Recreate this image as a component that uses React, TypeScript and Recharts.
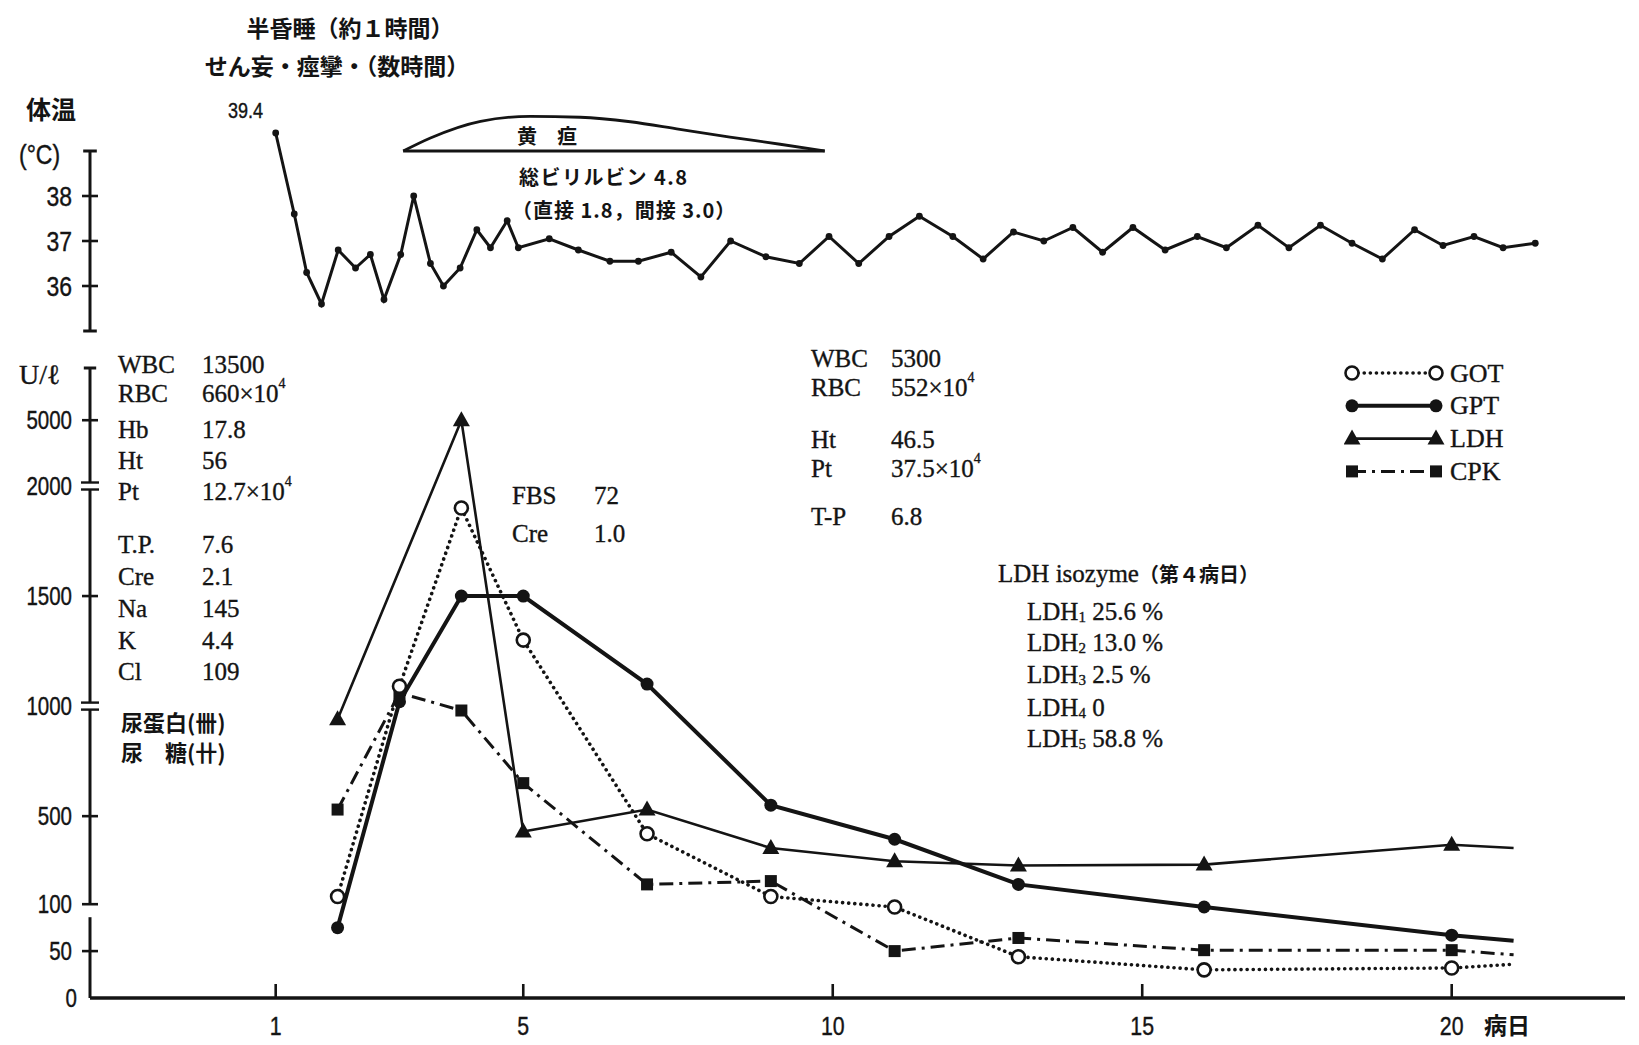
import React from 'react';
import { ComposedChart, Line, XAxis, YAxis, ReferenceLine, Legend } from 'recharts';

// ---------- data ----------
const tempDays = [1.0, 1.3, 1.5, 1.74, 2.01, 2.29, 2.53, 2.75, 3.02, 3.23, 3.5, 3.71, 3.98, 4.25, 4.47, 4.74, 4.92, 5.42, 5.89, 6.4, 6.86, 7.39, 7.87, 8.35, 8.92, 9.46, 9.94, 10.42, 10.91, 11.4, 11.94, 12.43, 12.92, 13.41, 13.88, 14.36, 14.85, 15.37, 15.89, 16.36, 16.87, 17.37, 17.88, 18.39, 18.88, 19.4, 19.86, 20.36, 20.83, 21.35];
const tempValues = [39.4, 37.6, 36.3, 35.6, 36.8, 36.4, 36.7, 35.7, 36.7, 38.0, 36.5, 36.0, 36.4, 37.25, 36.85, 37.45, 36.85, 37.05, 36.8, 36.55, 36.55, 36.75, 36.2, 37.0, 36.65, 36.5, 37.1, 36.5, 37.1, 37.55, 37.1, 36.6, 37.2, 37.0, 37.3, 36.75, 37.3, 36.8, 37.1, 36.85, 37.35, 36.85, 37.35, 36.95, 36.6, 37.25, 36.9, 37.1, 36.85, 36.95];

const jaundiceDays = [3.06, 3.5, 4.31, 5.11, 5.92, 6.73, 7.53, 8.34, 9.15, 9.87];
const jaundiceLevels = [39.0, 39.29, 39.66, 39.77, 39.75, 39.65, 39.48, 39.31, 39.15, 39.0];

const labDays = [2, 3, 4, 5, 7, 9, 11, 13, 16, 20, 21];
const gotValues = [135, 1090, 1900, 1300, 420, 135, 97, 44, 30, 32, 36];
const gptValues = [75, 1020, 1500, 1500, 1100, 550, 395, 190, 97, 67, 61];
const ldhValues: (number | null)[] = [940, null, 5000, 430, 530, 355, 295, 276, 280, 370, 355];
const cpkValues = [530, 1060, 980, 650, 190, 205, 50, 64, 51, 51, 46];
const lastUnmarkedDay = 21;

const enzymeTicks = [0, 50, 100, 500, 1000, 1500, 2000, 5000];
const tempTicks = [36, 37, 38];
const dayTicks = [1, 5, 10, 15, 20];

// broken enzyme axis: 0-100 stretched, 100-2000 linear, 2000-5000 compressed
const toAxis = (v: number) =>
  v <= 100 ? v * 0.938 : v <= 2000 ? 93.8 + (v - 100) * 0.2201 : 512 + (v - 2000) * 0.02193;

const tempTable = tempDays.map((d, i) => ({ day: d, temp: tempValues[i] }));
const jaundiceTable = jaundiceDays.map((d, i) => ({ day: d, level: jaundiceLevels[i] }));
const labTable = labDays.map((d, i) => ({
  day: d,
  got: toAxis(gotValues[i]),
  gpt: toAxis(gptValues[i]),
  ldh: ldhValues[i] == null ? null : toAxis(ldhValues[i] as number),
  cpk: toAxis(cpkValues[i]),
}));

// ---------- styles ----------
const INK = '#141414';
const SERIF = '"Liberation Serif", "DejaVu Serif", serif';
const GOTHIC = '"Noto Sans CJK JP", "Noto Sans", sans-serif';
const NARROW = '"Liberation Sans Narrow", "Liberation Sans", sans-serif';
const X_DOMAIN: [number, number] = [-2, 22.8];

type Kind = 'got' | 'gpt' | 'ldh' | 'cpk';
const Marker = ({ kind, cx, cy }: { kind: Kind; cx: number; cy: number }) => {
  if (kind === 'got')
    return <circle cx={cx} cy={cy} r={6.5} fill="#fff" stroke={INK} strokeWidth={2.6} strokeDasharray="none" />;
  if (kind === 'gpt') return <circle cx={cx} cy={cy} r={6.5} fill={INK} stroke="none" />;
  if (kind === 'ldh')
    return (
      <polygon
        points={`${cx},${cy - 9} ${cx - 8.5},${cy + 6} ${cx + 8.5},${cy + 6}`}
        fill={INK}
        stroke="none"
      />
    );
  return <rect x={cx - 6} y={cy - 6} width={12} height={12} fill={INK} stroke="none" />;
};

const makeDot = (kind: Kind) => (p: any) => {
  const key = `${kind}-${p.index}`;
  if (p.cx == null || p.cy == null || p.value == null || p.payload?.day === lastUnmarkedDay)
    return <g key={key} />;
  return (
    <g key={key}>
      <Marker kind={kind} cx={p.cx} cy={p.cy} />
    </g>
  );
};

const seriesStyle: Record<Kind, any> = {
  got: { strokeWidth: 3.6, strokeDasharray: '0.1 6', strokeLinecap: 'round' },
  gpt: { strokeWidth: 4 },
  ldh: { strokeWidth: 2.6 },
  cpk: { strokeWidth: 3, strokeDasharray: '14 6 3 6' },
};

// condensed label text
const NarrowText = ({ x, y, anchor, size, children }: { x: number; y: number; anchor: 'start' | 'middle' | 'end'; size: number; children: React.ReactNode }) => (
  <g transform={`translate(${x},${y}) scale(0.82,1)`}>
    <text x={0} y={0} textAnchor={anchor} dominantBaseline="central" fontFamily={NARROW} fontSize={size} fill={INK} stroke={INK} strokeWidth={0.4}>
      {children}
    </text>
  </g>
);

// ---------- axis ticks ----------
const EnzTick = (props: any) => {
  const { x, y, payload } = props;
  const v = enzymeTicks.find((t) => Math.abs(toAxis(t) - payload.value) < 0.01);
  const isBreak = v === 2000 || v === 1000;
  return (
    <g>
      {v !== 0 && !isBreak && <line x1={x - 8} x2={x + 8} y1={y} y2={y} stroke={INK} strokeWidth={2.6} />}
      {isBreak && (
        <g>
          <line x1={x - 9} x2={x + 9} y1={y - 3.5} y2={y - 3.5} stroke={INK} strokeWidth={2.4} />
          <line x1={x - 9} x2={x + 9} y1={y + 3.5} y2={y + 3.5} stroke={INK} strokeWidth={2.4} />
        </g>
      )}
      <NarrowText x={v === 0 ? x - 13 : x - 18} y={y} anchor="end" size={25}>
        {v}
      </NarrowText>
    </g>
  );
};

const TempTick = (props: any) => {
  const { x, y, payload } = props;
  return (
    <g>
      <line x1={x - 8} x2={x + 8} y1={y} y2={y} stroke={INK} strokeWidth={2.6} />
      <NarrowText x={x - 18} y={y} anchor="end" size={28}>
        {payload.value}
      </NarrowText>
    </g>
  );
};

const DayTick = (props: any) => {
  const { x, y, payload } = props;
  return (
    <g>
      <line x1={x} x2={x} y1={y} y2={y - 14} stroke={INK} strokeWidth={2.6} />
      <NarrowText x={x} y={y + 28} anchor="middle" size={26}>
        {payload.value}
      </NarrowText>
    </g>
  );
};

// ---------- legend ----------
const legendItems: { kind: Kind; label: string }[] = [
  { kind: 'got', label: 'GOT' },
  { kind: 'gpt', label: 'GPT' },
  { kind: 'ldh', label: 'LDH' },
  { kind: 'cpk', label: 'CPK' },
];
const LegendContent = () => (
  <svg width={200} height={140}>
    {legendItems.map((it, i) => {
      const y = 16 + i * 32.8;
      const x0 = 8;
      const x1 = 92;
      return (
        <g key={it.kind}>
          <line x1={x0} x2={x1} y1={y} y2={y} stroke={INK} {...seriesStyle[it.kind]} />
          <Marker kind={it.kind} cx={x0} cy={y} />
          <Marker kind={it.kind} cx={x1} cy={y} />
          <text x={106} y={y} dominantBaseline="central" fontFamily={SERIF} fontSize={26} fill={INK} stroke={INK} strokeWidth={0.35}>
            {it.label}
          </text>
        </g>
      );
    })}
  </svg>
);

// ---------- annotations ----------
const Sup = ({ children }: { children: React.ReactNode }) => (
  <tspan fontSize={14} dy={-10}>
    {children}
  </tspan>
);
const Row = ({ y, label, value, sup, lx, vx }: { y: number; label: string; value: string; sup?: string; lx: number; vx: number }) => (
  <g fontFamily={SERIF} fontSize={25} fill={INK} stroke={INK} strokeWidth={0.35}>
    <text x={lx} y={y} dominantBaseline="central">
      {label}
    </text>
    <text x={vx} y={y} dominantBaseline="central">
      {value}
      {sup && <Sup>{sup}</Sup>}
    </text>
  </g>
);
const Iso = ({ y, n, value }: { y: number; n: string; value: string }) => (
  <text x={1027} y={y} dominantBaseline="central" fontFamily={SERIF} fontSize={25} fill={INK} stroke={INK} strokeWidth={0.35}>
    LDH
    <tspan fontSize={15} dy={6}>
      {n}
    </tspan>
    <tspan dy={-6}> {value}</tspan>
  </text>
);

const Overlay = () => (
  <svg width={1639} height={1045} style={{ position: 'absolute', left: 0, top: 0, pointerEvents: 'none' }}>
    <g fontFamily={GOTHIC} fontWeight={700} fill={INK}>
      <text x={350} y={27} textAnchor="middle" dominantBaseline="central" fontSize={23}>
        半昏睡（約１時間）
      </text>
      <text x={337} y={65} textAnchor="middle" dominantBaseline="central" fontSize={23}>
        せん妄・痙攣・（数時間）
      </text>
      <text x={26} y={108} dominantBaseline="central" fontSize={25}>
        体温
      </text>
      <text x={547} y={135} textAnchor="middle" dominantBaseline="central" fontSize={20}>
        黄　疸
      </text>
      <text x={519} y={176} dominantBaseline="central" fontSize={20} letterSpacing={1.5}>
        総ビリルビン 4.8
      </text>
      <text x={512} y={209} dominantBaseline="central" fontSize={20} letterSpacing={1}>
        （直接 1.8，間接 3.0）
      </text>
      <text x={1484} y={1024} dominantBaseline="central" fontSize={23}>
        病日
      </text>
      <text x={121} y={721} dominantBaseline="central" fontSize={22}>
        尿蛋白(卌)
      </text>
      <text x={121} y={751} dominantBaseline="central" fontSize={22}>
        尿　糖(卄)
      </text>
    </g>
    <NarrowText x={19} y={154} anchor="start" size={28}>
      (°C)
    </NarrowText>
    <NarrowText x={228} y={110} anchor="start" size={22}>
      39.4
    </NarrowText>
    <text x={19} y={374} dominantBaseline="central" fontFamily={SERIF} fontSize={28} fill={INK} stroke={INK} strokeWidth={0.35}>
      U/ℓ
    </text>

    <Row lx={118} vx={202} y={364} label="WBC" value="13500" />
    <Row lx={118} vx={202} y={393} label="RBC" value="660×10" sup="4" />
    <Row lx={118} vx={202} y={429} label="Hb" value="17.8" />
    <Row lx={118} vx={202} y={460} label="Ht" value="56" />
    <Row lx={118} vx={202} y={491} label="Pt" value="12.7×10" sup="4" />
    <Row lx={118} vx={202} y={544} label="T.P." value="7.6" />
    <Row lx={118} vx={202} y={576} label="Cre" value="2.1" />
    <Row lx={118} vx={202} y={608} label="Na" value="145" />
    <Row lx={118} vx={202} y={640} label="K" value="4.4" />
    <Row lx={118} vx={202} y={671} label="Cl" value="109" />

    <Row lx={512} vx={594} y={495} label="FBS" value="72" />
    <Row lx={512} vx={594} y={533} label="Cre" value="1.0" />

    <Row lx={811} vx={891} y={358} label="WBC" value="5300" />
    <Row lx={811} vx={891} y={387} label="RBC" value="552×10" sup="4" />
    <Row lx={811} vx={891} y={439} label="Ht" value="46.5" />
    <Row lx={811} vx={891} y={468} label="Pt" value="37.5×10" sup="4" />
    <Row lx={811} vx={891} y={516} label="T-P" value="6.8" />

    <text x={998} y={573} dominantBaseline="central" fill={INK}>
      <tspan fontFamily={SERIF} fontSize={25} stroke={INK} strokeWidth={0.35}>
        LDH isozyme
      </tspan>
      <tspan fontFamily={GOTHIC} fontWeight={700} fontSize={20}>
        （第４病日）
      </tspan>
    </text>
    <Iso y={611} n="1" value="25.6 %" />
    <Iso y={642} n="2" value="13.0 %" />
    <Iso y={674} n="3" value="2.5 %" />
    <Iso y={707} n="4" value="0" />
    <Iso y={738} n="5" value="58.8 %" />
  </svg>
);

// ---------- charts ----------
const TempChart = () => (
  <ComposedChart width={1639} height={345} margin={{ top: 83.5, right: 14, bottom: 14, left: 0 }}>
    <XAxis dataKey="day" type="number" domain={X_DOMAIN} hide />
    <YAxis
      type="number"
      domain={[35, 40.5]}
      ticks={tempTicks}
      width={90}
      axisLine={false}
      tickLine={false}
      tickSize={0}
      tickMargin={0}
      interval={0}
      tick={<TempTick />}
    />
    <ReferenceLine segment={[{ x: -2, y: 35 }, { x: -2, y: 39 }]} stroke={INK} strokeWidth={3} ifOverflow="visible" />
    <ReferenceLine segment={[{ x: -2.11, y: 39 }, { x: -1.89, y: 39 }]} stroke={INK} strokeWidth={3} ifOverflow="visible" />
    <ReferenceLine segment={[{ x: -2.11, y: 35 }, { x: -1.89, y: 35 }]} stroke={INK} strokeWidth={3} ifOverflow="visible" />
    <ReferenceLine
      segment={[{ x: jaundiceDays[0], y: 39 }, { x: jaundiceDays[jaundiceDays.length - 1], y: 39 }]}
      stroke={INK}
      strokeWidth={3}
      ifOverflow="visible"
    />
    <Line
      data={jaundiceTable}
      dataKey="level"
      type="monotone"
      stroke={INK}
      strokeWidth={2.8}
      dot={false}
      isAnimationActive={false}
    />
    <Line
      data={tempTable}
      dataKey="temp"
      type="linear"
      stroke={INK}
      strokeWidth={3}
      dot={{ r: 3.4, fill: INK, stroke: INK, strokeWidth: 0 }}
      isAnimationActive={false}
    />
  </ComposedChart>
);

const T2000 = toAxis(2000);
const T1000 = toAxis(1000);
const T100 = toAxis(100);
const AX_TOP = 630;
const GAP = 3.5;

const EnzymeChart = () => (
  <ComposedChart width={1639} height={705} data={labTable} margin={{ top: 28, right: 14, bottom: 7, left: 0 }}>
    <XAxis
      dataKey="day"
      type="number"
      domain={X_DOMAIN}
      ticks={dayTicks}
      interval={0}
      height={40}
      axisLine={{ stroke: INK, strokeWidth: 3.6 }}
      tickLine={false}
      tickSize={0}
      tickMargin={0}
      tick={<DayTick />}
    />
    <YAxis
      type="number"
      domain={[0, AX_TOP]}
      ticks={enzymeTicks.map(toAxis)}
      interval={0}
      width={90}
      axisLine={false}
      tickLine={false}
      tickSize={0}
      tickMargin={0}
      tick={<EnzTick />}
    />
    <ReferenceLine segment={[{ x: -2.1, y: AX_TOP }, { x: -1.9, y: AX_TOP }]} stroke={INK} strokeWidth={3} ifOverflow="visible" />
    <ReferenceLine segment={[{ x: -2, y: AX_TOP }, { x: -2, y: T2000 + GAP }]} stroke={INK} strokeWidth={3} ifOverflow="visible" />
    <ReferenceLine segment={[{ x: -2, y: T2000 - GAP }, { x: -2, y: T1000 + GAP }]} stroke={INK} strokeWidth={3} ifOverflow="visible" />
    <ReferenceLine segment={[{ x: -2, y: T1000 - GAP }, { x: -2, y: T100 }]} stroke={INK} strokeWidth={3} ifOverflow="visible" />
    <ReferenceLine segment={[{ x: -2, y: T100 - 13 }, { x: -2, y: 0 }]} stroke={INK} strokeWidth={3} ifOverflow="visible" />

    <Line dataKey="ldh" type="linear" stroke={INK} {...seriesStyle.ldh} connectNulls dot={makeDot('ldh')} isAnimationActive={false} />
    <Line dataKey="cpk" type="linear" stroke={INK} {...seriesStyle.cpk} dot={makeDot('cpk')} isAnimationActive={false} />
    <Line dataKey="gpt" type="linear" stroke={INK} {...seriesStyle.gpt} dot={makeDot('gpt')} isAnimationActive={false} />
    <Line dataKey="got" type="linear" stroke={INK} {...seriesStyle.got} dot={makeDot('got')} isAnimationActive={false} />
    <Legend
      layout="vertical"
      align="center"
      verticalAlign="middle"
      content={() => <LegendContent />}
      wrapperStyle={{ position: 'absolute', left: 1344, top: 17, width: 200, height: 140, margin: 0, padding: 0 }}
    />
  </ComposedChart>
);

export default function App() {
  return (
    <div style={{ position: 'absolute', left: 0, top: 0, width: 1639, height: 1045, background: '#fff', overflow: 'hidden' }}>
      <div style={{ position: 'absolute', left: 0, top: 0 }}>
        <TempChart />
      </div>
      <div style={{ position: 'absolute', left: 0, top: 340 }}>
        <EnzymeChart />
      </div>
      <Overlay />
    </div>
  );
}
